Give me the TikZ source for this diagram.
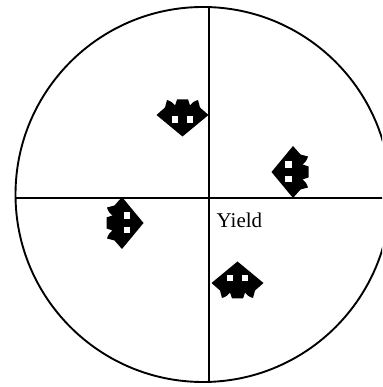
\documentclass[tikz,border=0pt]{standalone}
\usepackage{fontspec}
\setmainfont{Liberation Serif}
\tikzset{
  rim/.style={line width=1.9pt},
  axis/.style={line width=1.7pt},
  glyph/.pic={
    \fill[black] (-26,0) -- (-17.5,7.5) -- (-15.5,15)
      .. controls (-12,14) and (-9,12) .. (-7.5,9.5) -- (-5.5,15.5) -- (5.5,15.5) -- (7.5,9.5)
      .. controls (9,12) and (12,14) .. (15.5,15) -- (17.5,7.5) -- (26,0) -- (0,-21.5) -- cycle;
    \fill[white] (-10.5,-8) rectangle (-4.4,-1.5);
    \fill[white] (4.4,-8) rectangle (10.5,-1.5);
  }
}
\begin{document}
\begin{tikzpicture}[x=1pt,y=1pt]
  \useasboundingbox (0,0) rectangle (382,387);
  \clip (0,0) rectangle (382,387);
  \fill[white] (0,0) rectangle (382,387);
  \coordinate (c) at (203,192.5);
  \coordinate (vt) at (209,380);
  \coordinate (vb) at (209,5);
  \coordinate (hl) at (16,189);
  \coordinate (hr) at (384,189);
  \draw[rim] (c) circle[radius=187.5];
  \draw[axis] (vt) -- (vb);
  \draw[axis] (hl) -- (hr);
  \pic (s1) at (182.5,272) {glyph};
  \pic (s2) [rotate=-90] at (293,215) {glyph};
  \pic (s3) [rotate=90] at (122,164) {glyph};
  \pic (s4) [rotate=180] at (237.5,104) {glyph};
  \node[anchor=base west, inner sep=0pt, font=\fontsize{21}{25}\selectfont] (yield) at (216.5,159) {Yield};
\end{tikzpicture}
\end{document}
